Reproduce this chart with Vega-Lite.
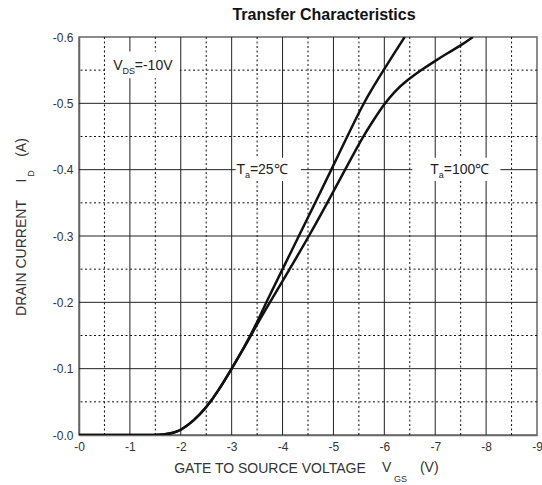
{
  "$schema": "https://vega.github.io/schema/vega-lite/v6.json",
  "width": 458,
  "height": 398,
  "autosize": {"type": "none"},
  "padding": {"left": 79, "top": 37, "right": 5, "bottom": 50},
  "background": "white",
  "title": {"text": "Transfer Characteristics", "font": "Liberation Sans", "fontSize": 16, "fontWeight": "bold", "color": "#111", "anchor": "middle", "dx": 16, "offset": 8},
  "config": {
    "view": {"stroke": "#666", "strokeWidth": 1.5},
    "text": {"font": "Liberation Sans", "color": "#222"}
  },
  "datasets": {
    "curves": [
      {"vgs": 0, "id": 0, "temp": "25C"},
      {"vgs": -1, "id": 0, "temp": "25C"},
      {"vgs": -1.5, "id": 0, "temp": "25C"},
      {"vgs": -1.7, "id": -0.001, "temp": "25C"},
      {"vgs": -1.85, "id": -0.003, "temp": "25C"},
      {"vgs": -2.0, "id": -0.007, "temp": "25C"},
      {"vgs": -2.25, "id": -0.021, "temp": "25C"},
      {"vgs": -2.5, "id": -0.041, "temp": "25C"},
      {"vgs": -2.75, "id": -0.068, "temp": "25C"},
      {"vgs": -3.0, "id": -0.1, "temp": "25C"},
      {"vgs": -3.2, "id": -0.126, "temp": "25C"},
      {"vgs": -3.37, "id": -0.15, "temp": "25C"},
      {"vgs": -3.53, "id": -0.175, "temp": "25C"},
      {"vgs": -3.68, "id": -0.2, "temp": "25C"},
      {"vgs": -4.0, "id": -0.25, "temp": "25C"},
      {"vgs": -4.32, "id": -0.3, "temp": "25C"},
      {"vgs": -4.64, "id": -0.35, "temp": "25C"},
      {"vgs": -4.96, "id": -0.4, "temp": "25C"},
      {"vgs": -5.27, "id": -0.45, "temp": "25C"},
      {"vgs": -5.59, "id": -0.5, "temp": "25C"},
      {"vgs": -5.79, "id": -0.526, "temp": "25C"},
      {"vgs": -6.0, "id": -0.552, "temp": "25C"},
      {"vgs": -6.2, "id": -0.576, "temp": "25C"},
      {"vgs": -6.4, "id": -0.6, "temp": "25C"},
      {"vgs": 0, "id": 0, "temp": "100C"},
      {"vgs": -1, "id": 0, "temp": "100C"},
      {"vgs": -1.5, "id": 0, "temp": "100C"},
      {"vgs": -1.7, "id": -0.001, "temp": "100C"},
      {"vgs": -1.85, "id": -0.003, "temp": "100C"},
      {"vgs": -2.0, "id": -0.007, "temp": "100C"},
      {"vgs": -2.25, "id": -0.021, "temp": "100C"},
      {"vgs": -2.5, "id": -0.041, "temp": "100C"},
      {"vgs": -2.75, "id": -0.068, "temp": "100C"},
      {"vgs": -3.0, "id": -0.1, "temp": "100C"},
      {"vgs": -3.2, "id": -0.126, "temp": "100C"},
      {"vgs": -3.38, "id": -0.15, "temp": "100C"},
      {"vgs": -3.56, "id": -0.175, "temp": "100C"},
      {"vgs": -3.75, "id": -0.2, "temp": "100C"},
      {"vgs": -4.14, "id": -0.25, "temp": "100C"},
      {"vgs": -4.52, "id": -0.3, "temp": "100C"},
      {"vgs": -4.88, "id": -0.35, "temp": "100C"},
      {"vgs": -5.23, "id": -0.4, "temp": "100C"},
      {"vgs": -5.58, "id": -0.45, "temp": "100C"},
      {"vgs": -5.8, "id": -0.476, "temp": "100C"},
      {"vgs": -5.98, "id": -0.497, "temp": "100C"},
      {"vgs": -6.2, "id": -0.518, "temp": "100C"},
      {"vgs": -6.45, "id": -0.535, "temp": "100C"},
      {"vgs": -6.72, "id": -0.55, "temp": "100C"},
      {"vgs": -7.0, "id": -0.564, "temp": "100C"},
      {"vgs": -7.25, "id": -0.576, "temp": "100C"},
      {"vgs": -7.5, "id": -0.587, "temp": "100C"},
      {"vgs": -7.74, "id": -0.6, "temp": "100C"}
    ],
    "xmajor": [{"vgs": -1}, {"vgs": -2}, {"vgs": -3}, {"vgs": -4}, {"vgs": -5}, {"vgs": -6}, {"vgs": -7}, {"vgs": -8}],
    "xminor": [{"vgs": -0.5}, {"vgs": -1.5}, {"vgs": -2.5}, {"vgs": -3.5}, {"vgs": -4.5}, {"vgs": -5.5}, {"vgs": -6.5}, {"vgs": -7.5}, {"vgs": -8.5}],
    "ymajor": [{"id": -0.1}, {"id": -0.2}, {"id": -0.3}, {"id": -0.4}, {"id": -0.5}],
    "yminor": [{"id": -0.05}, {"id": -0.15}, {"id": -0.25}, {"id": -0.35}, {"id": -0.45}, {"id": -0.55}],
    "one": [{}]
  },
  "layer": [
    {
      "data": {"name": "xminor"},
      "mark": {"type": "rule", "color": "#111", "strokeWidth": 1, "strokeDash": [2, 2.5]},
      "encoding": {"x": {"field": "vgs", "type": "quantitative"}}
    },
    {
      "data": {"name": "yminor"},
      "mark": {"type": "rule", "color": "#111", "strokeWidth": 1, "strokeDash": [2, 2.5]},
      "encoding": {"y": {"field": "id", "type": "quantitative"}}
    },
    {
      "data": {"name": "xmajor"},
      "mark": {"type": "rule", "color": "#222", "strokeWidth": 1},
      "encoding": {"x": {"field": "vgs", "type": "quantitative"}}
    },
    {
      "data": {"name": "ymajor"},
      "mark": {"type": "rule", "color": "#222", "strokeWidth": 1},
      "encoding": {"y": {"field": "id", "type": "quantitative"}}
    },
    {
      "data": {"name": "curves"},
      "mark": {"type": "line", "interpolate": "basis", "color": "#111", "strokeWidth": 2.5, "clip": true},
      "encoding": {
        "x": {
          "field": "vgs", "type": "quantitative",
          "scale": {"domain": [0, -9], "nice": false, "zero": false},
          "axis": {
            "values": [0, -1, -2, -3, -4, -5, -6, -7, -8, -9],
            "labelExpr": "'-' + format(abs(datum.value), 'd')",
            "grid": false,
            "ticks": false, "tickSize": 0,
            "labelPadding": 6, "labelFont": "Liberation Sans", "labelFontSize": 12, "labelColor": "#333",
            "labelFlush": false, "labelOverlap": false,
            "domainColor": "#666", "domainWidth": 1.5,
            "title": "GATE TO SOURCE VOLTAGE",
            "titleFont": "Liberation Sans", "titleFontSize": 14, "titleFontWeight": "normal", "titleColor": "#333",
            "titleX": 190.5, "titleY": 33, "titleAlign": "center", "titleBaseline": "middle"
          }
        },
        "y": {
          "field": "id", "type": "quantitative",
          "scale": {"domain": [0, -0.6], "nice": false, "zero": false},
          "axis": {
            "values": [0, -0.1, -0.2, -0.3, -0.4, -0.5, -0.6],
            "labelExpr": "'-' + format(abs(datum.value), '.1f')",
            "grid": false,
            "ticks": false, "tickSize": 0,
            "labelPadding": 6, "labelFont": "Liberation Sans", "labelFontSize": 12, "labelColor": "#333",
            "labelFlush": false, "labelOverlap": false,
            "domainColor": "#666", "domainWidth": 1.5,
            "title": "DRAIN CURRENT",
            "titleFont": "Liberation Sans", "titleFontSize": 14, "titleFontWeight": "normal", "titleColor": "#333",
            "titleAngle": 270, "titleX": -57.3, "titleY": 220.5, "titleAlign": "center", "titleBaseline": "middle"
          }
        },
        "detail": {"field": "temp"}
      }
    },
    {
      "data": {"name": "one"},
      "mark": {"type": "rect", "color": "white"},
      "encoding": {"x": {"datum": -0.54}, "x2": {"datum": -1.98}, "y": {"datum": -0.578}, "y2": {"datum": -0.538}}
    },
    {
      "data": {"name": "one"},
      "mark": {"type": "rect", "color": "white"},
      "encoding": {"x": {"datum": -3.08}, "x2": {"datum": -4.36}, "y": {"datum": -0.418}, "y2": {"datum": -0.383}}
    },
    {
      "data": {"name": "one"},
      "mark": {"type": "rect", "color": "white"},
      "encoding": {"x": {"datum": -6.55}, "x2": {"datum": -8.28}, "y": {"datum": -0.418}, "y2": {"datum": -0.383}}
    },
    {
      "data": {"name": "one"},
      "mark": {"type": "text", "text": "V", "fontSize": 14, "align": "left", "baseline": "middle"},
      "encoding": {"x": {"datum": -0.674}, "y": {"datum": -0.556}}
    },
    {
      "data": {"name": "one"},
      "mark": {"type": "text", "text": "DS", "fontSize": 9, "align": "left", "baseline": "middle", "dy": 5},
      "encoding": {"x": {"datum": -0.853}, "y": {"datum": -0.556}}
    },
    {
      "data": {"name": "one"},
      "mark": {"type": "text", "text": "=-10V", "fontSize": 14, "align": "left", "baseline": "middle"},
      "encoding": {"x": {"datum": -1.096}, "y": {"datum": -0.556}}
    },
    {
      "data": {"name": "one"},
      "mark": {"type": "text", "text": "T", "fontSize": 14, "align": "left", "baseline": "middle"},
      "encoding": {"x": {"datum": -3.094}, "y": {"datum": -0.4}}
    },
    {
      "data": {"name": "one"},
      "mark": {"type": "text", "text": "a", "fontSize": 9, "align": "left", "baseline": "middle", "dy": 5},
      "encoding": {"x": {"datum": -3.26}, "y": {"datum": -0.4}}
    },
    {
      "data": {"name": "one"},
      "mark": {"type": "text", "text": "=25℃", "fontSize": 14, "align": "left", "baseline": "middle"},
      "encoding": {"x": {"datum": -3.358}, "y": {"datum": -0.4}}
    },
    {
      "data": {"name": "one"},
      "mark": {"type": "text", "text": "T", "fontSize": 14, "align": "left", "baseline": "middle"},
      "encoding": {"x": {"datum": -6.902}, "y": {"datum": -0.4}}
    },
    {
      "data": {"name": "one"},
      "mark": {"type": "text", "text": "a", "fontSize": 9, "align": "left", "baseline": "middle", "dy": 5},
      "encoding": {"x": {"datum": -7.07}, "y": {"datum": -0.4}}
    },
    {
      "data": {"name": "one"},
      "mark": {"type": "text", "text": "=100℃", "fontSize": 14, "align": "left", "baseline": "middle"},
      "encoding": {"x": {"datum": -7.17}, "y": {"datum": -0.4}}
    },
    {
      "data": {"name": "one"},
      "mark": {"type": "text", "text": "I", "fontSize": 14, "color": "#333", "align": "center", "baseline": "middle", "angle": 270, "clip": false},
      "encoding": {"x": {"datum": 1.126}, "y": {"datum": -0.3837}}
    },
    {
      "data": {"name": "one"},
      "mark": {"type": "text", "text": "D", "fontSize": 9, "color": "#333", "align": "center", "baseline": "middle", "angle": 270, "clip": false},
      "encoding": {"x": {"datum": 0.949}, "y": {"datum": -0.3942}}
    },
    {
      "data": {"name": "one"},
      "mark": {"type": "text", "text": "(A)", "fontSize": 14, "color": "#333", "align": "center", "baseline": "middle", "angle": 270, "clip": false},
      "encoding": {"x": {"datum": 1.126}, "y": {"datum": -0.4334}}
    },
    {
      "data": {"name": "one"},
      "mark": {"type": "text", "text": "V", "fontSize": 14, "color": "#333", "align": "left", "baseline": "middle", "dy": 33, "clip": false},
      "encoding": {"x": {"datum": -5.954}, "y": {"datum": 0}}
    },
    {
      "data": {"name": "one"},
      "mark": {"type": "text", "text": "GS", "fontSize": 9, "color": "#333", "align": "left", "baseline": "middle", "dy": 44, "clip": false},
      "encoding": {"x": {"datum": -6.19}, "y": {"datum": 0}}
    },
    {
      "data": {"name": "one"},
      "mark": {"type": "text", "text": "(V)", "fontSize": 14, "color": "#333", "align": "left", "baseline": "middle", "dy": 33, "clip": false},
      "encoding": {"x": {"datum": -6.7}, "y": {"datum": 0}}
    }
  ]
}
